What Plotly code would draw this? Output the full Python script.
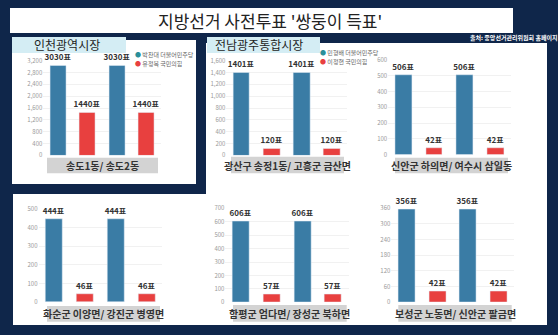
import plotly.graph_objects as go

# ---------------- data ----------------
title_text = "지방선거 사전투표 '쌍둥이 득표'"
source_text = "출처: 중앙선거관리위원회 홈페이지"
panel_titles = ["인천광역시장", "전남광주통합시장"]
legend_incheon = ["박찬대 더불어민주당", "유정복 국민의힘"]
legend_jeonnam = ["민형배 더불어민주당", "이정현 국민의힘"]

areas = ["송도1동/ 송도2동",
         "광산구 송정1동/ 고흥군 금산면",
         "신안군 하의면/ 여수시 삼일동",
         "화순군 이양면/ 강진군 병영면",
         "함평군 엄다면/ 장성군 북하면",
         "보성군 노동면/ 신안군 팔금면"]
dem_votes = [3030, 1401, 506, 444, 606, 356]
ppp_votes = [1440, 120, 42, 46, 57, 42]
axis_max = [3200, 1600, 600, 500, 700, 360]
axis_step = [400, 200, 100, 100, 100, 60]
bar_slots = ["A-민주", "A-국힘", "B-민주", "B-국힘"]

# ---------------- style / geometry ----------------
W, H = 558, 335
NAVY = "#0f264a"
BLUE = "#3a7ca5"
RED = "#e8403f"
LEG_TEAL = "#2a8f9a"
FONT = "Noto Sans CJK KR"

def px(x):
    return x / W

def py(y):
    return 1 - y / H

# plot areas in pixels: (x0, x1, y_top, y_zero)
geo = [(43.3, 161.3, 60.7, 155.3),
       (226.4, 347.1, 60.7, 155.3),
       (388.2, 510.8, 60.0, 154.5),
       (38.5, 162.2, 209.0, 302.3),
       (225.4, 348.7, 208.3, 302.3),
       (391.3, 514.4, 208.3, 302.3)]
# category label boxes (x0, x1, y0, y1)
boxes = [(47, 158, 157.7, 173.3),
         (231, 344, 156.7, 173.3),
         (395, 508, 157.7, 173.3),
         (47, 160, 306, 321.7),
         (233, 346.7, 305, 321.7),
         (398.3, 511.7, 305, 321.7)]

fig = go.Figure()
layout = dict(width=W, height=H, margin=dict(l=0, r=0, t=0, b=0, autoexpand=False),
              paper_bgcolor=NAVY, plot_bgcolor="rgba(0,0,0,0)",
              showlegend=False, font=dict(family=FONT), bargap=0)
shapes = []
annotations = []

def rect(x0, x1, y0, y1, color, layer="below"):
    shapes.append(dict(type="rect", xref="paper", yref="paper",
                       x0=px(x0), x1=px(x1), y0=py(y1), y1=py(y0),
                       fillcolor=color, line=dict(width=0), layer=layer))

def note(x, y, text, size, color, xanchor="center"):
    annotations.append(dict(xref="paper", yref="paper", x=px(x), y=py(y),
                            text=text, showarrow=False, xanchor=xanchor,
                            yanchor="middle", borderpad=0,
                            font=dict(size=size, color=color, family=FONT)))

# background panels
rect(10, 513, 8, 33, "white")            # title box
rect(13, 547, 43, 325, "white")          # main white area
rect(0, 206, 33, 194, NAVY)              # Incheon frame
rect(12, 196, 40, 184, "white")          # Incheon panel

for i in range(6):
    xa = "x" if i == 0 else f"x{i+1}"
    ya = "y" if i == 0 else f"y{i+1}"
    x0, x1, yt, yz = geo[i]
    fig.add_trace(go.Bar(x=[bar_slots[0], bar_slots[2]], y=[dem_votes[i], dem_votes[i]],
                         marker_color=BLUE, width=0.55, xaxis=xa, yaxis=ya,
                         text=[f"<b>{dem_votes[i]}표</b>"] * 2, textposition="outside",
                         constraintext="none", cliponaxis=False,
                         textfont=dict(size=8, color="#333333", family=FONT)))
    fig.add_trace(go.Bar(x=[bar_slots[1], bar_slots[3]], y=[ppp_votes[i], ppp_votes[i]],
                         marker_color=RED, width=0.55, xaxis=xa, yaxis=ya,
                         text=[f"<b>{ppp_votes[i]}표</b>"] * 2, textposition="outside",
                         constraintext="none", cliponaxis=False,
                         textfont=dict(size=8, color="#333333", family=FONT)))
    kx = "xaxis" if i == 0 else f"xaxis{i+1}"
    ky = "yaxis" if i == 0 else f"yaxis{i+1}"
    layout[kx] = dict(domain=[px(x0), px(x1)], anchor=ya, type="category",
                      categoryorder="array", categoryarray=bar_slots,
                      showticklabels=False, showgrid=False, zeroline=False,
                      showline=False, range=[-0.5, 3.5], fixedrange=True)
    layout[ky] = dict(domain=[py(yz), py(yt)], anchor=xa, range=[0, axis_max[i]],
                      dtick=axis_step[i], tick0=0, tickformat=",",
                      showgrid=True, gridcolor="#f1f1f1", gridwidth=1,
                      zeroline=False, showline=False, ticks="",
                      tickfont=dict(size=6, color="#9a9a9a", family=FONT))
    bx0, bx1, by0, by1 = boxes[i]
    rect(bx0, bx1, by0, by1, "#d3d3d3", layer="above")
    note((bx0 + bx1) / 2, (by0 + by1) / 2, f"<b>{areas[i]}</b>", 10, "#333333")

# panel title boxes
rect(12, 126, 37, 53, "#d4edf4", layer="above")
rect(207, 320, 37, 53, "#d4edf4", layer="above")
note(67, 44, panel_titles[0], 12, "#1e1e1e")
note(259, 44, panel_titles[1], 12, "#1e1e1e")

# legends
def legend(xl, ys, labels):
    for lab, col, yy in zip(labels, [LEG_TEAL, RED], ys):
        note(xl, yy, f"<span style='color:{col}'>●</span> {lab}", 6, "#666666",
             xanchor="left")

legend(134, [54, 63], legend_incheon)
legend(319, [53, 61.5], legend_jeonnam)

# title and source
note(270, 20.5, title_text, 17, "#222222")
note(513, 37.5, f"<b>{source_text}</b>", 6, "white")

layout["shapes"] = shapes
layout["annotations"] = annotations
fig.update_layout(**layout)
fig.write_html("out.html")
